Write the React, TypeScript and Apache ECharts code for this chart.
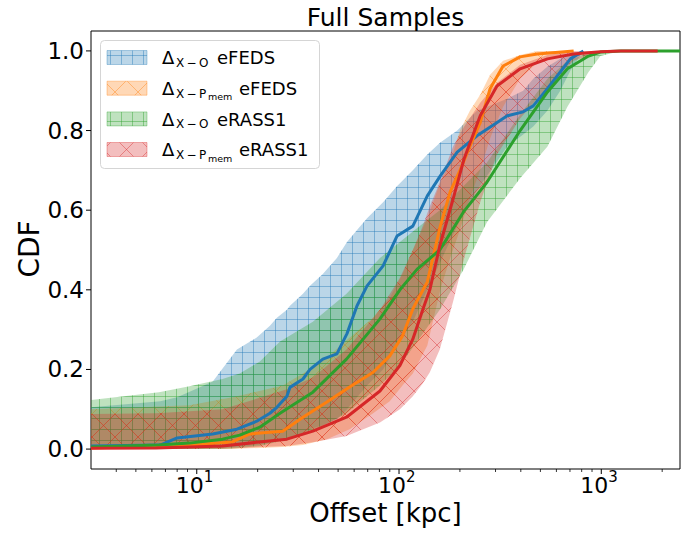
import React, { useEffect, useRef } from "react";
import * as echarts from "echarts";

// ---------------- data ----------------
// Offsets in kpc, CDF values
const blueX = [3, 6.6, 8, 12, 15.8, 19.8, 23, 24.9, 27.9, 28.9, 33.5, 36.3, 42, 49.3, 55.3, 62, 69.5, 83.4, 97.7, 117, 138, 160, 194, 243, 343, 411, 461, 541, 627, 703, 815];
const blueCdf = [0.008, 0.01, 0.028, 0.038, 0.05, 0.07, 0.09, 0.105, 0.133, 0.155, 0.176, 0.2, 0.226, 0.239, 0.29, 0.36, 0.41, 0.46, 0.535, 0.56, 0.636, 0.686, 0.746, 0.787, 0.837, 0.847, 0.862, 0.905, 0.947, 0.98, 1.0];
const blueHi = [0.105, 0.12, 0.13, 0.17, 0.25, 0.28, 0.31, 0.33, 0.35, 0.36, 0.39, 0.41, 0.44, 0.48, 0.52, 0.55, 0.58, 0.62, 0.66, 0.7, 0.74, 0.77, 0.8, 0.85, 0.88, 0.9, 0.93, 0.96, 0.98, 0.995, 1.0];
const blueLo = [0, 0, 0, 0.002, 0.005, 0.01, 0.015, 0.02, 0.025, 0.03, 0.04, 0.05, 0.06, 0.075, 0.1, 0.13, 0.16, 0.2, 0.26, 0.32, 0.4, 0.47, 0.56, 0.65, 0.76, 0.79, 0.81, 0.85, 0.9, 0.95, 1.0];

const orangeX = [3, 9.2, 15, 18.3, 26.6, 33.5, 44, 57, 74.5, 90, 104, 117, 138, 160, 179, 200, 224, 252, 282, 327, 397, 482, 730];
const orangeCdf = [0.003, 0.01, 0.018, 0.038, 0.045, 0.08, 0.118, 0.156, 0.193, 0.234, 0.284, 0.352, 0.42, 0.56, 0.646, 0.7, 0.76, 0.82, 0.905, 0.962, 0.985, 0.992, 1.0];
const orangeHi = [0.1, 0.11, 0.13, 0.14, 0.16, 0.19, 0.23, 0.28, 0.33, 0.38, 0.44, 0.5, 0.58, 0.67, 0.72, 0.8, 0.85, 0.89, 0.94, 0.975, 0.99, 1.0, 1.0];
const orangeLo = [0, 0, 0, 0.002, 0.005, 0.01, 0.025, 0.05, 0.09, 0.12, 0.16, 0.19, 0.26, 0.4, 0.48, 0.55, 0.63, 0.7, 0.78, 0.86, 0.93, 0.97, 1.0];

const greenX = [3, 6.5, 9.2, 13.4, 16.3, 20.5, 25.8, 37.5, 55, 80.5, 101, 123, 159, 208, 272, 397, 542, 680, 865, 990, 1250, 2450];
const greenCdf = [0.005, 0.01, 0.015, 0.025, 0.035, 0.055, 0.09, 0.143, 0.226, 0.327, 0.4, 0.452, 0.5, 0.595, 0.67, 0.8, 0.897, 0.955, 0.987, 0.997, 1.0, 1.0];
const greenHi = [0.123, 0.143, 0.158, 0.176, 0.19, 0.22, 0.27, 0.32, 0.39, 0.48, 0.52, 0.555, 0.6, 0.66, 0.72, 0.84, 0.93, 0.975, 0.995, 1.0, 1.0, 1.0];
const greenLo = [0, 0, 0, 0, 0.003, 0.008, 0.02, 0.045, 0.09, 0.16, 0.21, 0.27, 0.35, 0.45, 0.57, 0.68, 0.76, 0.86, 0.947, 0.987, 1.0, 1.0];

const redX = [3, 6.3, 13.4, 27.9, 37.5, 55, 80.5, 101, 117, 131, 142, 159, 185, 210, 252, 305, 397, 542, 728, 990, 1250, 1900];
const redCdf = [0.002, 0.003, 0.008, 0.025, 0.045, 0.08, 0.146, 0.21, 0.276, 0.35, 0.4, 0.51, 0.628, 0.73, 0.837, 0.912, 0.955, 0.98, 0.992, 0.998, 1.0, 1.0];
const redHi = [0.088, 0.09, 0.1, 0.15, 0.18, 0.25, 0.35, 0.43, 0.5, 0.56, 0.61, 0.67, 0.76, 0.81, 0.87, 0.92, 0.965, 0.99, 1.0, 1.0, 1.0, 1.0];
const redLo = [0, 0, 0.001, 0.008, 0.017, 0.033, 0.067, 0.1, 0.133, 0.165, 0.193, 0.25, 0.37, 0.48, 0.62, 0.74, 0.83, 0.91, 0.975, 0.995, 1.0, 1.0];

const yTicks = [0, 0.2, 0.4, 0.6, 0.8, 1.0];
const xMajorTicks = [10, 100, 1000];
const xMajorExp = ["1", "2", "3"];
const xMinorTicks = [4, 5, 6, 7, 8, 9, 20, 30, 40, 50, 60, 70, 80, 90, 200, 300, 400, 500, 600, 700, 800, 900, 2000];

const legendSamples = ["eFEDS", "eFEDS", "eRASS1", "eRASS1"];
const legendSub = ["X\u2009\u2212\u2009O", "X\u2009\u2212\u2009P", "X\u2009\u2212\u2009O", "X\u2009\u2212\u2009P"];
const legendSubSub = ["", "mem", "", "mem"];

const titleText = "Full Samples";
const xName = "Offset [kpc]";
const yName = "CDF";

const X_MIN = 3;
const X_MAX = 2450;
const Y_MIN = -0.05;
const Y_MAX = 1.05;

const FONT = "DejaVu Sans";
const BLUE = [31, 119, 180];
const ORANGE = [255, 127, 14];
const GREEN = [44, 160, 44];
const RED = [214, 39, 40];

function makePattern(rgb: number[], kind: "grid" | "cross") {
  const size = kind === "grid" ? 11 : 23;
  const c = document.createElement("canvas");
  c.width = size;
  c.height = size;
  const ctx = c.getContext("2d")!;
  ctx.fillStyle = `rgba(${rgb.join(",")},0.3)`;
  ctx.fillRect(0, 0, size, size);
  ctx.strokeStyle = `rgba(${rgb.join(",")},0.42)`;
  ctx.lineWidth = 1;
  ctx.beginPath();
  if (kind === "grid") {
    ctx.moveTo(0.5, 0);
    ctx.lineTo(0.5, size);
    ctx.moveTo(0, 0.5);
    ctx.lineTo(size, 0.5);
  } else {
    ctx.moveTo(-2, -2);
    ctx.lineTo(size + 2, size + 2);
    ctx.moveTo(-2, size + 2);
    ctx.lineTo(size + 2, -2);
  }
  ctx.stroke();
  return { image: c, repeat: "repeat", imageWidth: size, imageHeight: size };
}

function bandSeries(name: string, xs: number[], lo: number[], hi: number[], pattern: any) {
  return {
    name,
    type: "custom",
    coordinateSystem: "cartesian2d",
    silent: true,
    data: [[xs[0], lo[0]]],
    renderItem: (_params: any, api: any) => {
      const pts: number[][] = [];
      for (let i = 0; i < xs.length; i++) pts.push(api.coord([xs[i], hi[i]]));
      for (let i = xs.length - 1; i >= 0; i--) pts.push(api.coord([xs[i], lo[i]]));
      return { type: "polygon", shape: { points: pts }, style: { fill: pattern, stroke: null } };
    },
  };
}

function lineSeries(name: string, xs: number[], ys: number[], rgb: number[]) {
  return {
    name,
    type: "line",
    data: xs.map((x, i) => [x, ys[i]]),
    showSymbol: false,
    symbol: "none",
    silent: true,
    lineStyle: { width: 3, color: `rgb(${rgb.join(",")})` },
    z: 3,
  };
}

export default function App() {
  const ref = useRef<HTMLDivElement>(null);
  useEffect(() => {
    if (!ref.current) return;
    const chart = echarts.init(ref.current, undefined, { renderer: "svg" });
    const pBlue = makePattern(BLUE, "grid");
    const pOrange = makePattern(ORANGE, "cross");
    const pGreen = makePattern(GREEN, "grid");
    const pRed = makePattern(RED, "cross");
    const patterns = [pBlue, pOrange, pGreen, pRed];

    const legendBase = [64, 94.7, 125.4, 156];
    const legendEls: any[] = [
      {
        type: "rect",
        shape: { x: 100.5, y: 40.5, width: 219, height: 128, r: 4 },
        style: { fill: "rgba(255,255,255,0.8)", stroke: "#d5d5d5", lineWidth: 1 },
        z: 100,
      },
    ];
    const rgbs = [BLUE, ORANGE, GREEN, RED];
    legendBase.forEach((b, i) => {
      legendEls.push({
        type: "rect",
        shape: { x: 107, y: b - 13.5, width: 40, height: 14 },
        style: { fill: patterns[i], stroke: `rgba(${rgbs[i].join(",")},0.35)`, lineWidth: 1 },
        z: 101,
      });
      legendEls.push({
        type: "text", x: 162, y: b - 6.2, z: 101,
        style: { text: "\u0394", fontSize: 18, fontFamily: FONT, fill: "#000", align: "left", verticalAlign: "middle" },
      });
      legendEls.push({
        type: "text", x: 176, y: b - 1.2, z: 101,
        style: { text: legendSub[i], fontSize: 12, fontFamily: FONT, fill: "#000", align: "left", verticalAlign: "middle" },
      });
      if (legendSubSub[i]) {
        legendEls.push({
          type: "text", x: 208, y: b + 2, z: 101,
          style: { text: legendSubSub[i], fontSize: 9.5, fontFamily: FONT, fill: "#000", align: "left", verticalAlign: "middle" },
        });
      }
      legendEls.push({
        type: "text", x: legendSubSub[i] ? 239 : 217, y: b - 6.2, z: 101,
        style: { text: legendSamples[i], fontSize: 18, fontFamily: FONT, fill: "#000", align: "left", verticalAlign: "middle" },
      });
    });

    const option: any = {
      animation: false,
      backgroundColor: "#fff",
      grid: { left: 91, right: 12, top: 31, bottom: 65, show: true, borderColor: "#000", borderWidth: 1, backgroundColor: "transparent" },
      xAxis: {
        type: "log", logBase: 10, min: X_MIN, max: X_MAX,
        axisLine: { show: false }, axisTick: { show: false }, axisLabel: { show: false }, splitLine: { show: false },
      },
      yAxis: {
        type: "value", min: Y_MIN, max: Y_MAX,
        axisLine: { show: false }, axisTick: { show: false }, axisLabel: { show: false }, splitLine: { show: false },
      },
      series: [
        bandSeries("band_xo_efeds", blueX, blueLo, blueHi, pBlue),
        bandSeries("band_xp_efeds", orangeX, orangeLo, orangeHi, pOrange),
        bandSeries("band_xo_erass", greenX, greenLo, greenHi, pGreen),
        bandSeries("band_xp_erass", redX, redLo, redHi, pRed),
        lineSeries("X-O eFEDS", blueX, blueCdf, BLUE),
        lineSeries("X-Pmem eFEDS", orangeX, orangeCdf, ORANGE),
        lineSeries("X-O eRASS1", greenX, greenCdf, GREEN),
        lineSeries("X-Pmem eRASS1", redX, redCdf, RED),
        {
          type: "custom", silent: true, z: 5,
          data: xMajorTicks.map((v) => [v, Y_MIN]),
          renderItem: (params: any, api: any) => {
            const p = api.coord([api.value(0), Y_MIN]);
            return {
              type: "group",
              children: [
                { type: "line", shape: { x1: p[0], y1: p[1], x2: p[0], y2: p[1] + 5 }, style: { stroke: "#000", lineWidth: 1 } },
                { type: "text", x: p[0] + 7, y: p[1] + 16, style: { text: "10", fontSize: 22, fontFamily: FONT, fill: "#000", align: "right", verticalAlign: "middle" } },
                { type: "text", x: p[0] + 7, y: p[1] + 8, style: { text: xMajorExp[params.dataIndex], fontSize: 15, fontFamily: FONT, fill: "#000", align: "left", verticalAlign: "middle" } },
              ],
            };
          },
        },
        {
          type: "custom", silent: true, z: 5,
          data: xMinorTicks.map((v) => [v, Y_MIN]),
          renderItem: (_params: any, api: any) => {
            const p = api.coord([api.value(0), Y_MIN]);
            return { type: "line", shape: { x1: p[0], y1: p[1], x2: p[0], y2: p[1] + 3 }, style: { stroke: "#000", lineWidth: 0.8 } };
          },
        },
        {
          type: "custom", silent: true, z: 5,
          data: yTicks.map((v) => [X_MIN, v]),
          renderItem: (params: any, api: any) => {
            const p = api.coord([X_MIN, api.value(1)]);
            return {
              type: "group",
              children: [
                { type: "line", shape: { x1: p[0] - 5, y1: p[1], x2: p[0], y2: p[1] }, style: { stroke: "#000", lineWidth: 1 } },
                { type: "text", x: p[0] - 7, y: p[1], style: { text: yTicks[params.dataIndex].toFixed(1), fontSize: 23, fontFamily: FONT, fill: "#000", align: "right", verticalAlign: "middle" } },
              ],
            };
          },
        },
      ],
      graphic: [
        { type: "text", x: 385.5, y: 17, z: 100, style: { text: titleText, fontSize: 25, fontFamily: FONT, fill: "#000", align: "center", verticalAlign: "middle" } },
        { type: "text", x: 385.5, y: 513, z: 100, style: { text: xName, fontSize: 26, fontFamily: FONT, fill: "#000", align: "center", verticalAlign: "middle" } },
        { type: "text", x: 29, y: 249, rotation: Math.PI / 2, z: 100, style: { text: yName, fontSize: 28, fontFamily: FONT, fill: "#000", align: "center", verticalAlign: "middle" } },
        ...legendEls,
      ],
    };
    chart.setOption(option);
    return () => chart.dispose();
  }, []);
  return <div ref={ref} style={{ position: "fixed", left: 0, top: 0, width: 692, height: 534 }} />;
}
